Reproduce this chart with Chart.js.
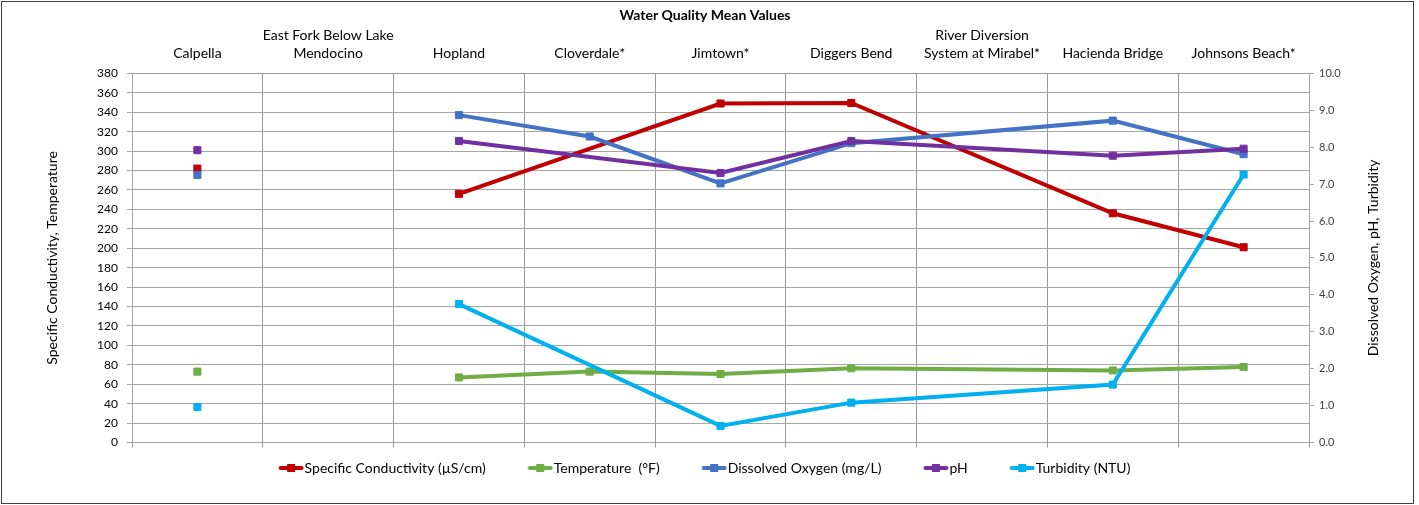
<!DOCTYPE html>
<html>
<head>
<meta charset="utf-8">
<title>Water Quality Mean Values</title>
<script src="https://cdn.jsdelivr.net/npm/chart.js@4.4.1/dist/chart.umd.min.js"></script>
<style>
  html, body { margin: 0; padding: 0; background: #fff; }
  #wrap { position: relative; width: 1419px; height: 505px; }
</style>
</head>
<body>
<div id="wrap"><canvas id="wqChart" width="1419" height="505"></canvas></div>
<script>
// Sampling sites (x categories, shown along the top)
const sites = [
    'Calpella',
    ['East Fork Below Lake', 'Mendocino'],
    'Hopland',
    'Cloverdale*',
    'Jimtown*',
    'Diggers Bend',
    ['River Diversion', 'System at Mirabel*'],
    'Hacienda Bridge',
    'Johnsons Beach*'
];

// Left axis series
const conductivity = [282, null, 256, null, 349, 349.5, null, 236, 201];
const temperature = [73, null, 67, 73, 70.5, 76.5, null, 74.2, 77.7];

// Right axis series
const dissolvedOxygen = [7.25, null, 8.87, 8.29, 7.02, 8.11, null, 8.72, 7.81];
const ph = [7.92, null, 8.17, null, 7.30, 8.17, null, 7.77, 7.96];
const turbidity = [0.96, null, 3.75, null, 0.45, 1.08, null, 1.57, 7.26];

// Axis ranges
const leftMax = 380, leftStep = 20;
const rightMax = 10, rightStep = 1;

const FONT = 'Lato, "Open Sans", sans-serif';
const GRID = '#a6a6a6';
const VGRID = '#999999';

// Excel-ish legend marker: line with a square in the middle
function legendIcon(color) {
    const c = document.createElement('canvas');
    c.width = 64;
    c.height = 10;
    const g = c.getContext('2d');
    g.strokeStyle = color;
    g.lineWidth = 4;
    g.lineCap = 'round';
    g.beginPath();
    g.moveTo(40.5, 5);
    g.lineTo(61.5, 5);
    g.stroke();
    g.fillStyle = color;
    g.fillRect(47, 1, 8, 8);
    return c;
}

function series(label, data, color, axis, order) {
    return {
        label: label,
        data: data,
        yAxisID: axis,
        borderColor: color,
        backgroundColor: color,
        borderWidth: 4,
        pointStyle: 'rect',
        pointRadius: 5,
        pointBorderWidth: 1,
        pointBackgroundColor: color,
        pointBorderColor: color,
        spanGaps: true,
        order: order,
        // Calpella is not joined to the rest of the river
        segment: {
            borderColor: ctx => ctx.p0DataIndex < 2 ? 'rgba(0,0,0,0)' : undefined
        },
        legendIcon: legendIcon(color)
    };
}

const datasets = [
    series('Specific Conductivity (µS/cm)', conductivity, '#C00000', 'y', 5),
    series('Temperature  (°F)', temperature, '#70AD47', 'y', 4),
    series('Dissolved Oxygen (mg/L)', dissolvedOxygen, '#4472C4', 'y1', 3),
    series('pH', ph, '#7030A0', 'y1', 2),
    series('Turbidity (NTU)', turbidity, '#00B0F0', 'y1', 1)
];

// Frame, chart title and the two rotated axis titles
const frameAndTitles = {
    id: 'frameAndTitles',
    beforeDraw(chart) {
        const ctx = chart.ctx;
        ctx.save();
        ctx.fillStyle = '#fff';
        ctx.fillRect(0, 0, chart.width, chart.height);
        ctx.restore();
    },
    afterDraw(chart) {
        const ctx = chart.ctx;
        const area = chart.chartArea;
        const midY = (area.top + area.bottom) / 2;
        ctx.save();
        ctx.strokeStyle = '#404040';
        ctx.lineWidth = 1;
        ctx.strokeRect(1.5, 1.5, 1412, 502);
        ctx.fillStyle = '#000';
        ctx.textAlign = 'center';
        ctx.textBaseline = 'middle';
        ctx.font = 'bold 14px ' + FONT;
        ctx.fillText('Water Quality Mean Values', 705, 15.5);
        ctx.font = '14px ' + FONT;
        [[52, 'Specific Conductivity, Temperature'], [1373, 'Dissolved Oxygen, pH, Turbidity']].forEach(([x, text]) => {
            ctx.save();
            ctx.translate(x, midY);
            ctx.rotate(-Math.PI / 2);
            ctx.fillText(text, 0, 0);
            ctx.restore();
        });
        ctx.restore();
    }
};

new Chart(document.getElementById('wqChart').getContext('2d'), {
    type: 'line',
    data: { labels: sites, datasets: datasets },
    plugins: [frameAndTitles],
    options: {
        responsive: false,
        animation: false,
        layout: { padding: { left: 0, right: 42, top: 0, bottom: 20 } },
        plugins: {
            title: { display: false },
            legend: {
                position: 'bottom',
                labels: {
                    color: '#000',
                    font: { family: FONT, size: 14 },
                    usePointStyle: true,
                    pointStyleWidth: 51,
                    padding: 10,
                    sort: (a, b) => a.datasetIndex - b.datasetIndex,
                    generateLabels: chart => {
                        const items = Chart.defaults.plugins.legend.labels.generateLabels(chart);
                        items.forEach(it => {
                            it.pointStyle = chart.data.datasets[it.datasetIndex].legendIcon;
                        });
                        return items;
                    }
                }
            },
            tooltip: { enabled: false }
        },
        scales: {
            x: {
                position: 'top',
                offset: true,
                grid: { offset: true, color: VGRID, drawTicks: false },
                border: { color: VGRID },
                ticks: {
                    color: '#000',
                    font: { family: FONT, size: 14, lineHeight: 1.29 },
                    padding: 11,
                    maxRotation: 0,
                    autoSkip: false
                },
                afterFit(scale) { scale.height = 73.4; }
            },
            xTicks: {
                type: 'category',
                position: 'bottom',
                offset: true,
                grid: { offset: true, drawOnChartArea: false, tickLength: 5, color: VGRID },
                border: { display: false },
                ticks: { display: false },
                afterFit(scale) { scale.height = 8.5; }
            },
            y: {
                position: 'left',
                min: 0,
                max: leftMax,
                ticks: {
                    stepSize: leftStep,
                    color: '#000',
                    font: { family: FONT, size: 12 },
                    padding: 9
                },
                grid: { color: GRID, tickLength: 5 },
                border: { color: GRID },
                afterFit(scale) { scale.width = 132; }
            },
            y1: {
                position: 'right',
                min: 0,
                max: rightMax,
                ticks: {
                    stepSize: rightStep,
                    color: '#404040',
                    font: { family: FONT, size: 11 },
                    padding: 5,
                    callback: v => v.toFixed(1)
                },
                grid: { drawOnChartArea: false, color: GRID, tickLength: 5 },
                border: { color: GRID },
                afterFit(scale) { scale.width = 68; }
            }
        }
    }
});
</script>
</body>
</html>
